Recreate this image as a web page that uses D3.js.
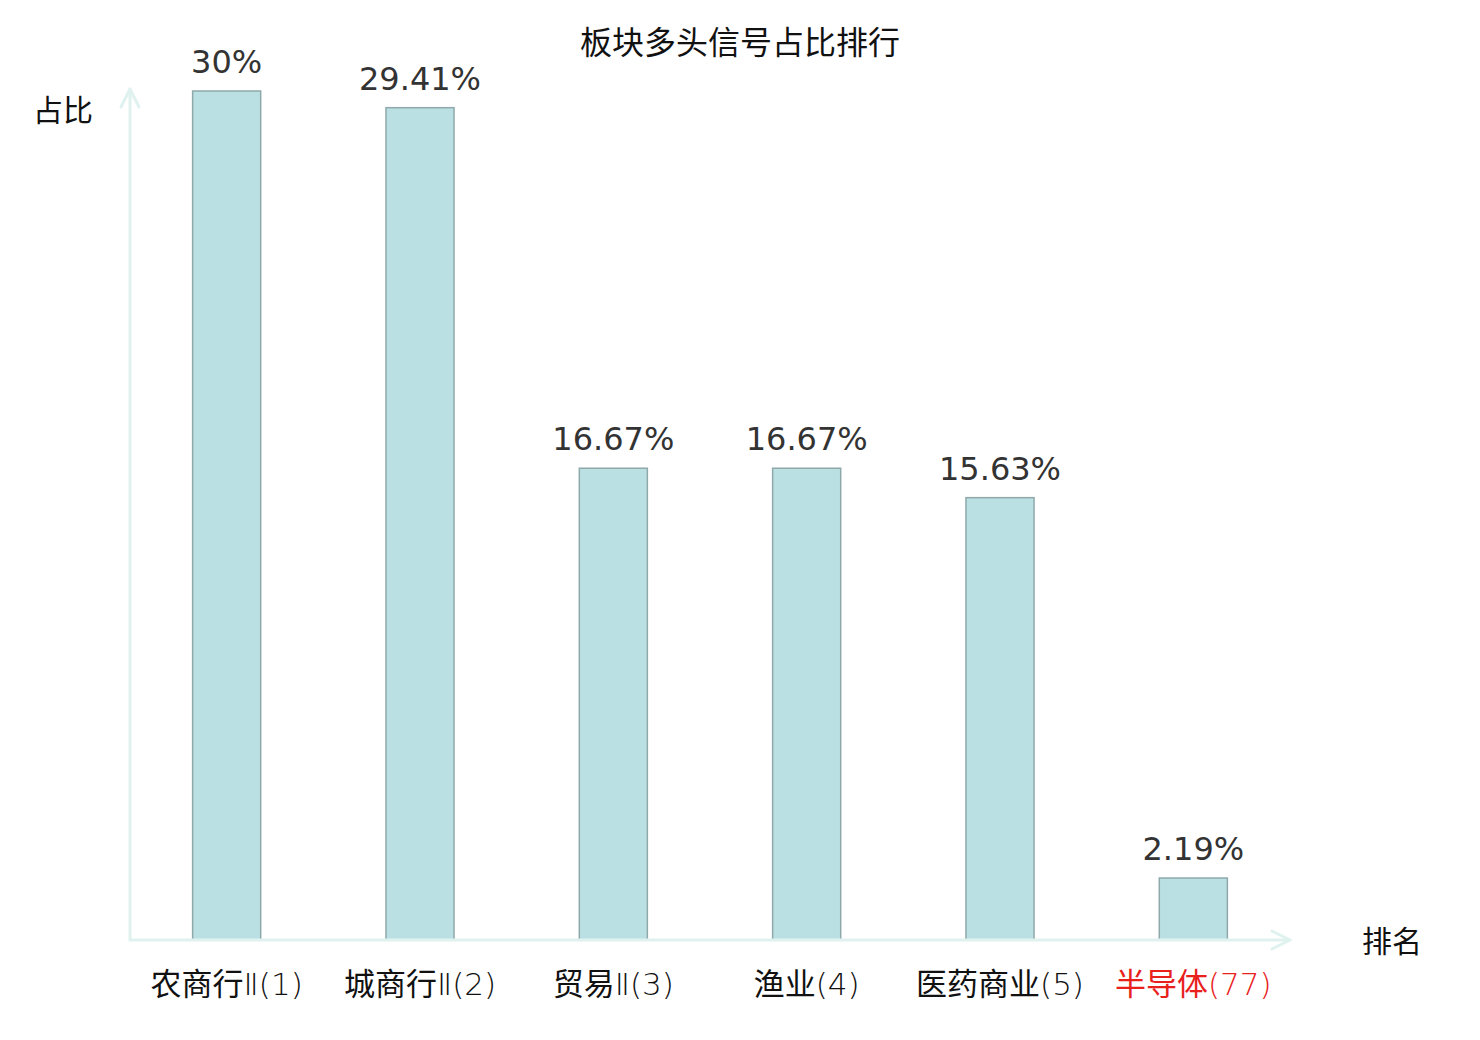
<!DOCTYPE html>
<html>
<head>
<meta charset="utf-8">
<script src="https://cdn.jsdelivr.net/npm/d3@7/dist/d3.min.js"></script>
<style>
  html, body { margin: 0; padding: 0; background: #fff; }
  svg { display: block; }
</style>
</head>
<body>
<svg id="chart" width="1480" height="1040"></svg>
<script>
const categories = ["农商行Ⅱ(1)", "城商行Ⅱ(2)", "贸易Ⅱ(3)", "渔业(4)", "医药商业(5)", "半导体(77)"];
const values = [30, 29.41, 16.67, 16.67, 15.63, 2.19];
const valueLabels = ["30%", "29.41%", "16.67%", "16.67%", "15.63%", "2.19%"];
const highlight = [false, false, false, false, false, true];
const titleText = "板块多头信号占比排行";
const yAxisName = "占比";
const xAxisName = "排名";

const svg = d3.select("#chart");
const cjk = "'Noto Sans CJK SC', 'Noto Sans', sans-serif";
const latin = "'DejaVu Sans', sans-serif";

const x0 = 130, x1 = 1290, yBase = 940, yTop = 91;
const x = d3.scaleBand().domain(categories).range([x0, x1]).paddingInner(0.648).paddingOuter(0.324);
const y = d3.scaleLinear().domain([0, d3.max(values)]).range([yBase, yTop]);

const axisColor = "#dff2ef";

// bars
svg.append("g").selectAll("rect").data(categories).join("rect")
  .attr("x", d => x(d))
  .attr("y", (d, i) => y(values[i]))
  .attr("width", x.bandwidth())
  .attr("height", (d, i) => yBase - y(values[i]))
  .attr("fill", "#bbe0e3")
  .attr("stroke", "#8fa9ab")
  .attr("stroke-width", 1.5);

// value labels
svg.append("g").selectAll("text").data(categories).join("text")
  .attr("x", d => x(d) + x.bandwidth() / 2)
  .attr("y", (d, i) => y(values[i]) - 18)
  .attr("text-anchor", "middle")
  .attr("font-family", latin)
  .attr("font-size", 32)
  .attr("fill", "#333")
  .text((d, i) => valueLabels[i]);

// axes
const axes = svg.append("g").attr("stroke", axisColor).attr("stroke-width", 3).attr("fill", "none")
  .attr("stroke-linecap", "round").attr("stroke-linejoin", "round");
axes.append("line").attr("x1", x0).attr("y1", yBase).attr("x2", x0).attr("y2", 89);
axes.append("polyline").attr("points", `${x0-9},${107} ${x0},${89} ${x0+9},${107}`);
axes.append("line").attr("x1", x0).attr("y1", yBase).attr("x2", x1).attr("y2", yBase);
axes.append("polyline").attr("points", `${x1-18},${931} ${x1},${yBase} ${x1-18},${949}`);

// x labels: CJK runs in regular CJK font, the rest in light DejaVu
function splitRuns(s) {
  const runs = [];
  for (const ch of s) {
    const isCjk = /[\u4e00-\u9fff]/.test(ch);
    if (runs.length && runs[runs.length - 1].cjk === isCjk) runs[runs.length - 1].t += ch;
    else runs.push({ t: ch, cjk: isCjk });
  }
  return runs;
}
const xl = svg.append("g").selectAll("text").data(categories).join("text")
  .attr("x", d => x(d) + x.bandwidth() / 2)
  .attr("y", 995)
  .attr("text-anchor", "middle")
  .attr("font-size", 31)
  .attr("fill", (d, i) => highlight[i] ? "#e8211d" : "#111");
xl.selectAll("tspan").data(d => splitRuns(d)).join("tspan")
  .attr("font-family", r => r.cjk ? cjk : "'DejaVu Sans', 'Noto Sans CJK SC', sans-serif")
  .attr("font-weight", r => r.cjk ? 400 : 200)
  .text(r => r.t);

// axis names
svg.append("text").attr("x", 63).attr("y", 121).attr("text-anchor", "middle")
  .attr("font-family", cjk).attr("font-size", 30).attr("fill", "#111").text(yAxisName);
svg.append("text").attr("x", 1392).attr("y", 952).attr("text-anchor", "middle")
  .attr("font-family", cjk).attr("font-size", 30).attr("fill", "#111").text(xAxisName);

// title
svg.append("text").attr("x", 740).attr("y", 54).attr("text-anchor", "middle")
  .attr("font-family", cjk).attr("font-size", 32).attr("fill", "#111").text(titleText);
</script>
</body>
</html>
